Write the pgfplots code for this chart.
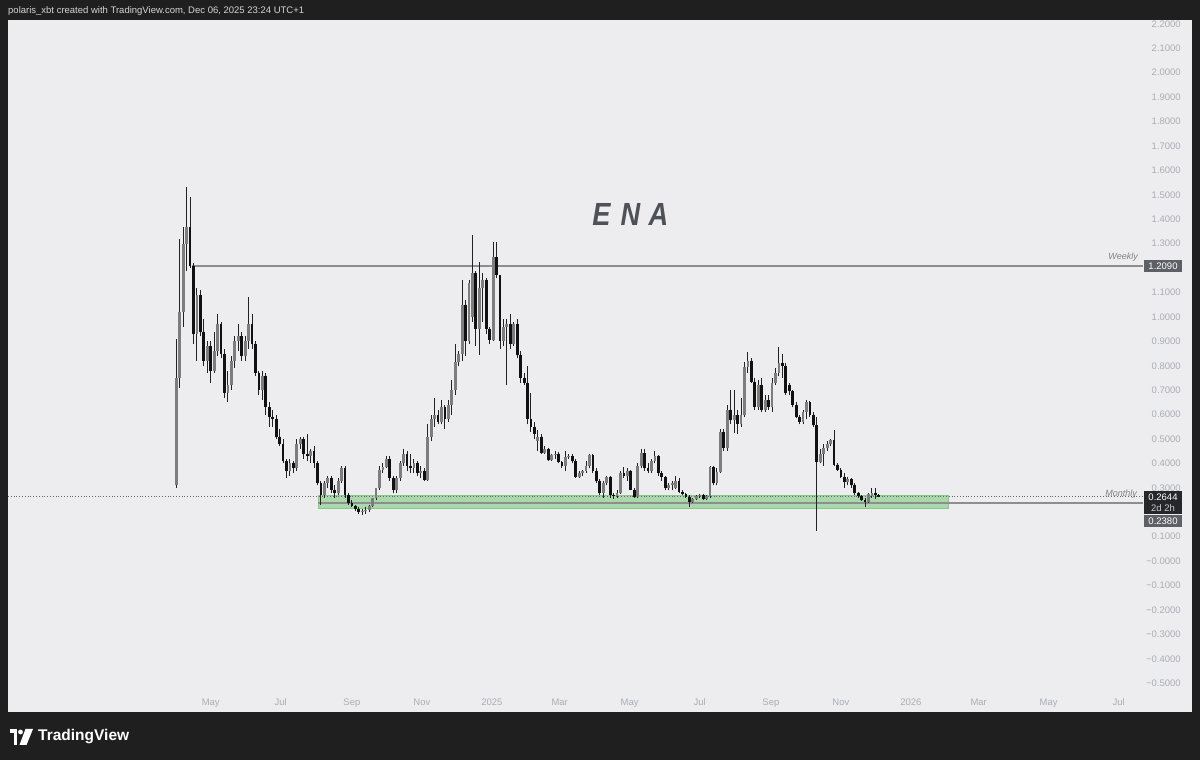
\documentclass[border=0pt]{standalone}
\usepackage{fontspec}
\setmainfont{Liberation Sans}
\usepackage{pgfplots}
\pgfplotsset{compat=1.18}
\usepackage{pgfplotstable}
\usepackage{graphicx}

\definecolor{bgc}{HTML}{EDEDF0}
\definecolor{framec}{HTML}{1F1F1F}
\definecolor{tickc}{HTML}{ABADB4}
\definecolor{upc}{HTML}{7D7D7D}
\definecolor{dnc}{HTML}{111111}
\definecolor{wickc}{HTML}{222222}
\definecolor{lvl}{HTML}{8E8E92}
\definecolor{zonef}{HTML}{A9D9AA}
\definecolor{zoned}{HTML}{8CC68D}
\definecolor{lblgray}{HTML}{5E6068}
\definecolor{lbldark}{HTML}{26272B}
\definecolor{titlec}{HTML}{4E5158}
\definecolor{hdrc}{HTML}{D6D6D6}

% ENA 3-day candles, d = days since 2024-01-01
\pgfplotstableread{
d o h l c
91 0.31 0.91 0.30 0.75
94 0.75 1.32 0.71 1.02
97 1.02 1.37 0.96 1.30
100 1.30 1.53 1.19 1.37
103 1.37 1.49 1.20 1.21
106 1.21 1.22 0.89 0.93
109 0.93 1.12 0.82 1.09
112 1.09 1.11 0.92 0.94
115 0.94 0.99 0.80 0.82
118 0.82 0.90 0.77 0.88
121 0.88 0.90 0.73 0.78
124 0.78 0.94 0.77 0.86
127 0.86 1.01 0.84 0.97
130 0.97 0.98 0.83 0.85
133 0.85 0.87 0.67 0.69
136 0.69 0.78 0.65 0.72
139 0.72 0.84 0.70 0.82
142 0.82 0.92 0.79 0.90
145 0.90 0.97 0.86 0.92
148 0.92 0.94 0.82 0.84
151 0.84 0.92 0.82 0.90
154 0.90 1.08 0.87 0.97
157 0.97 1.01 0.87 0.89
160 0.89 0.90 0.76 0.77
163 0.77 0.78 0.68 0.70
166 0.70 0.78 0.66 0.76
169 0.76 0.77 0.60 0.63
172 0.63 0.65 0.55 0.59
175 0.59 0.62 0.55 0.58
178 0.58 0.60 0.50 0.51
181 0.51 0.54 0.47 0.48
184 0.48 0.50 0.40 0.41
187 0.41 0.42 0.34 0.37
190 0.37 0.42 0.35 0.40
193 0.40 0.41 0.36 0.38
196 0.38 0.50 0.37 0.48
199 0.48 0.51 0.46 0.50
202 0.50 0.51 0.42 0.44
205 0.44 0.52 0.41 0.43
208 0.43 0.46 0.40 0.45
211 0.45 0.47 0.38 0.40
214 0.40 0.41 0.31 0.32
217 0.32 0.33 0.23 0.27
220 0.27 0.33 0.26 0.32
223 0.32 0.35 0.30 0.34
226 0.34 0.35 0.28 0.29
229 0.29 0.31 0.26 0.28
232 0.28 0.34 0.27 0.33
235 0.33 0.39 0.32 0.38
238 0.38 0.39 0.26 0.27
241 0.27 0.28 0.23 0.24
244 0.24 0.25 0.22 0.226
247 0.226 0.23 0.205 0.213
250 0.213 0.22 0.195 0.20
253 0.20 0.215 0.19 0.205
256 0.205 0.22 0.195 0.21
259 0.21 0.23 0.20 0.225
262 0.225 0.26 0.22 0.258
265 0.258 0.30 0.25 0.298
268 0.298 0.39 0.29 0.373
271 0.373 0.40 0.36 0.385
274 0.385 0.43 0.38 0.42
277 0.42 0.43 0.33 0.34
280 0.34 0.35 0.28 0.29
283 0.29 0.35 0.28 0.34
286 0.34 0.41 0.33 0.40
289 0.40 0.46 0.39 0.44
292 0.44 0.45 0.37 0.39
295 0.39 0.44 0.36 0.38
298 0.38 0.42 0.36 0.40
301 0.40 0.41 0.35 0.36
304 0.36 0.39 0.34 0.37
307 0.37 0.38 0.33 0.332
310 0.332 0.56 0.33 0.51
313 0.51 0.60 0.49 0.58
316 0.58 0.67 0.55 0.60
319 0.60 0.62 0.56 0.57
322 0.57 0.66 0.56 0.63
325 0.63 0.64 0.54 0.58
328 0.58 0.66 0.57 0.64
331 0.64 0.74 0.60 0.70
334 0.70 0.89 0.68 0.815
337 0.815 0.86 0.80 0.85
340 0.85 1.15 0.82 1.05
343 1.05 1.07 0.84 0.90
346 0.90 1.15 0.89 1.14
349 1.00 1.335 0.98 1.18
352 1.18 1.19 0.88 0.95
355 0.95 1.225 0.845 1.12
358 1.12 1.18 0.98 1.15
361 1.15 1.16 0.93 0.95
364 0.95 0.96 0.89 0.905
367 0.905 1.307 0.90 1.245
370 1.245 1.307 1.16 1.17
373 1.17 1.17 0.87 0.90
376 0.90 0.99 0.88 0.96
379 0.96 0.99 0.72 0.97
382 0.97 1.01 0.87 0.89
385 0.89 0.98 0.88 0.97
388 0.97 0.99 0.83 0.845
391 0.845 0.86 0.73 0.75
394 0.75 0.77 0.72 0.73
397 0.73 0.80 0.56 0.58
400 0.58 0.69 0.53 0.55
403 0.55 0.57 0.50 0.52
406 0.49 0.535 0.45 0.51
409 0.51 0.52 0.44 0.443
412 0.443 0.47 0.44 0.46
415 0.46 0.465 0.41 0.415
418 0.415 0.44 0.41 0.435
421 0.435 0.45 0.42 0.44
424 0.44 0.445 0.40 0.405
427 0.405 0.41 0.38 0.39
430 0.39 0.45 0.37 0.425
433 0.425 0.44 0.42 0.43
436 0.43 0.44 0.40 0.41
439 0.41 0.42 0.34 0.345
442 0.345 0.37 0.34 0.36
445 0.36 0.375 0.35 0.37
448 0.37 0.41 0.36 0.39
451 0.39 0.44 0.38 0.435
454 0.435 0.44 0.36 0.37
457 0.37 0.38 0.32 0.33
460 0.33 0.335 0.27 0.28
463 0.28 0.33 0.258 0.32
466 0.32 0.35 0.31 0.345
469 0.345 0.35 0.26 0.27
472 0.27 0.28 0.255 0.265
475 0.265 0.29 0.26 0.28
478 0.28 0.37 0.275 0.36
481 0.36 0.385 0.34 0.35
484 0.35 0.38 0.33 0.37
487 0.37 0.375 0.29 0.29
490 0.29 0.30 0.26 0.263
493 0.263 0.40 0.26 0.39
496 0.39 0.46 0.38 0.443
499 0.443 0.46 0.37 0.38
502 0.38 0.40 0.36 0.37
505 0.37 0.42 0.36 0.41
508 0.41 0.45 0.40 0.43
511 0.43 0.435 0.35 0.36
514 0.36 0.37 0.33 0.345
517 0.345 0.35 0.29 0.298
520 0.298 0.32 0.29 0.31
523 0.31 0.33 0.29 0.32
526 0.30 0.35 0.295 0.33
529 0.33 0.34 0.28 0.284
532 0.284 0.29 0.27 0.275
535 0.275 0.28 0.26 0.263
538 0.263 0.27 0.222 0.243
541 0.243 0.26 0.24 0.255
544 0.255 0.27 0.25 0.265
547 0.265 0.275 0.26 0.27
550 0.27 0.275 0.25 0.255
553 0.255 0.27 0.25 0.265
556 0.265 0.39 0.26 0.385
559 0.385 0.39 0.31 0.32
562 0.32 0.38 0.31 0.365
565 0.365 0.54 0.36 0.53
568 0.53 0.54 0.45 0.462
571 0.462 0.64 0.45 0.62
574 0.62 0.70 0.56 0.577
577 0.577 0.70 0.525 0.60
580 0.60 0.62 0.52 0.56
583 0.56 0.67 0.55 0.60
586 0.60 0.815 0.59 0.795
589 0.795 0.857 0.77 0.82
592 0.82 0.83 0.73 0.733
595 0.733 0.75 0.62 0.633
598 0.633 0.74 0.62 0.72
601 0.72 0.75 0.61 0.62
604 0.62 0.68 0.61 0.66
607 0.66 0.68 0.62 0.63
610 0.63 0.75 0.61 0.728
613 0.728 0.79 0.72 0.77
616 0.77 0.878 0.76 0.81
619 0.81 0.85 0.75 0.80
622 0.80 0.81 0.68 0.69
625 0.72 0.73 0.68 0.695
628 0.695 0.70 0.63 0.64
631 0.64 0.65 0.585 0.59
634 0.59 0.60 0.56 0.57
637 0.57 0.62 0.56 0.61
640 0.61 0.66 0.58 0.65
643 0.65 0.655 0.59 0.60
646 0.60 0.61 0.55 0.557
649 0.557 0.59 0.125 0.405
652 0.405 0.46 0.40 0.44
655 0.44 0.48 0.39 0.462
658 0.462 0.49 0.45 0.48
661 0.48 0.50 0.47 0.495
664 0.495 0.535 0.39 0.395
667 0.395 0.40 0.37 0.375
670 0.375 0.38 0.34 0.345
673 0.345 0.36 0.30 0.325
676 0.325 0.345 0.31 0.335
679 0.335 0.34 0.30 0.31
682 0.31 0.32 0.27 0.28
685 0.28 0.285 0.26 0.265
688 0.265 0.27 0.245 0.25
691 0.25 0.26 0.222 0.243
694 0.243 0.28 0.24 0.275
697 0.265 0.30 0.26 0.28
700 0.28 0.30 0.255 0.27
703 0.27 0.275 0.262 0.2644
}\ena

\pgfplotsset{
  candle/.style={forget plot, mark=none, -, line cap=butt},
}

\begin{document}
\begin{tikzpicture}
\fill[framec] (0pt,0pt) rectangle (1200pt,760pt);

\begin{axis}[
  at={(8pt,48pt)}, anchor=south west,
  scale only axis, width=1184pt, height=692pt,
  xmin=-55.6, xmax=975.8, ymin=-0.6178, ymax=2.2159,
  axis background/.style={fill=bgc},
  axis line style={draw=none},
  major tick length=0pt, tick style={draw=none},
  xtick={121,182,244,305,366,425,486,547,609,670,731,790,851,912},
  xticklabels={May,Jul,Sep,Nov,2025,Mar,May,Jul,Sep,Nov,2026,Mar,May,Jul},
  ytick={-0.5,-0.4,-0.3,-0.2,-0.1,0,0.1,0.3,0.4,0.5,0.6,0.7,0.8,0.9,1.0,1.1,1.3,1.4,1.5,1.6,1.7,1.8,1.9,2.0,2.1,2.2},
  yticklabels={−0.5000,−0.4000,−0.3000,−0.2000,−0.1000,−0.0000,0.1000,0.3000,0.4000,0.5000,0.6000,0.7000,0.8000,0.9000,1.0000,1.1000,1.3000,1.4000,1.5000,1.6000,1.7000,1.8000,1.9000,2.0000,2.1000,2.2000},
  yticklabel pos=right,
  ticklabel style={font=\fontsize{9.5}{11}\selectfont, text=tickc, inner sep=0pt},
  yticklabel style={anchor=east, xshift=-11pt},
  xticklabel style={anchor=base, yshift=6.5pt},
]

% support zone
\fill[zonef, draw=zoned, line width=0.8pt] (axis cs:214.4,0.2175) rectangle (axis cs:763.2,0.271);

% levels
\addplot[lvl, line width=1.3pt, forget plot] coordinates {(104.7,1.209)(933,1.209)};
\addplot[lvl, line width=1.3pt, forget plot] coordinates {(214.4,0.238)(933,0.238)};
\addplot[black!60, dotted, line width=0.8pt, forget plot] coordinates {(-55.6,0.2644)(933,0.2644)};

% wicks
\addplot[candle, wickc, line width=1pt, quiver={u=0, v=\thisrow{h}-\thisrow{l}}]
  table[x=d, y=l] {\ena};
% down bodies
\addplot[candle, dnc, line width=2.8pt, quiver={u=0, v=\thisrow{c}-\thisrow{o}},
  restrict expr to domain={\thisrow{c}-\thisrow{o}}{-10:-0.00001}]
  table[x=d, y=o] {\ena};
% up bodies
\addplot[candle, upc, line width=2.8pt, quiver={u=0, v=\thisrow{c}-\thisrow{o}},
  restrict expr to domain={\thisrow{c}-\thisrow{o}}{0:10}]
  table[x=d, y=o] {\ena};
\end{axis}

% frame bands over anything that spills
\fill[framec] (0pt,740pt) rectangle (1200pt,760pt);
\fill[framec] (0pt,0pt) rectangle (1200pt,48pt);

% header
\node[anchor=west, text=hdrc, font=\fontsize{9.5}{11}\selectfont, inner sep=0pt] at (8pt,749pt)
  {polaris\_xbt created with TradingView.com, Dec 06, 2025 23:24 UTC+1};

% title letters
\foreach \ch/\xx in {E/601.5, N/630.5, A/658.5}
  \node[text=titlec, font=\fontsize{32}{32}\bfseries\itshape\selectfont, inner sep=0pt]
    at (\xx pt, 545pt) {\scalebox{0.85}[1]{\ch}};

% level captions
\node[anchor=base east, text=black!50, font=\fontsize{9}{10}\itshape\selectfont, inner sep=0pt] at (1138pt,500pt) {Weekly};
\node[anchor=base east, text=black!50, font=\fontsize{9}{10}\itshape\selectfont, inner sep=0pt] at (1137pt,263pt) {Monthly};

% price scale labels
\fill[lblgray] (1144pt,488pt) rectangle (1182pt,500pt);
\node[text=white, font=\fontsize{9.5}{11}\selectfont, inner sep=0pt] at (1163pt,494pt) {1.2090};
\fill[lbldark] (1144pt,246pt) rectangle (1182pt,269pt);
\node[text=white, font=\fontsize{9.5}{11}\selectfont, inner sep=0pt] at (1163pt,263pt) {0.2644};
\node[text=black!20, font=\fontsize{9.5}{11}\selectfont, inner sep=0pt] at (1163pt,252pt) {2d 2h};
\fill[lblgray] (1144pt,233pt) rectangle (1182pt,245pt);
\node[text=white, font=\fontsize{9.5}{11}\selectfont, inner sep=0pt] at (1163pt,239pt) {0.2380};

% TradingView logo
\fill[white] (10pt,31pt) rectangle (17pt,26.5pt);
\fill[white] (13.5pt,31pt) rectangle (17pt,15pt);
\fill[white] (20.5pt,28pt) circle (2.4pt);
\fill[white] (25.5pt,31pt) -- (33pt,31pt) -- (26.5pt,15pt) -- (19.5pt,15pt) -- cycle;
\node[anchor=west, text=white, font=\fontsize{15.5}{16}\bfseries\selectfont, inner sep=0pt] at (38pt,23pt) {TradingView};
\end{tikzpicture}
\end{document}
